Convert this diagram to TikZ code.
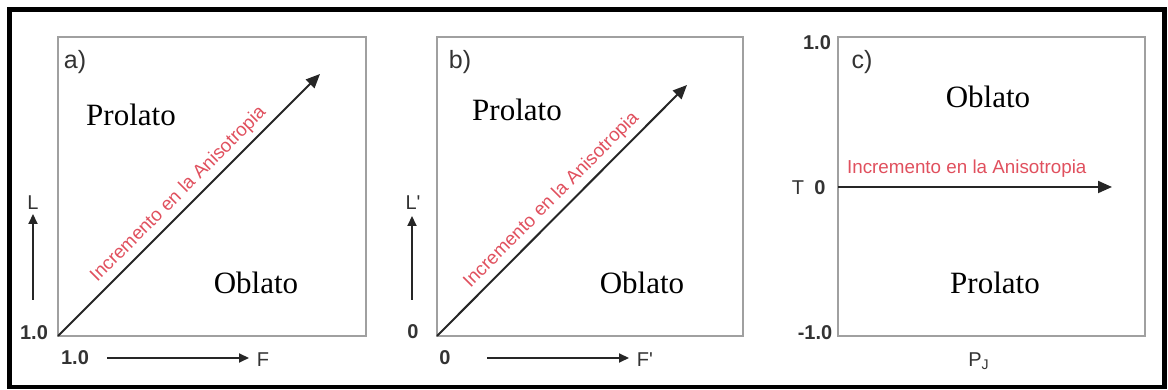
\documentclass[tikz,border=0pt]{standalone}
\usepackage{fontspec}
\setmainfont{Liberation Serif}
\setsansfont{Liberation Sans}
\usetikzlibrary{arrows.meta}
\definecolor{boxgray}{HTML}{A0A0A0}
\definecolor{txtgray}{HTML}{333333}
\definecolor{anisored}{HTML}{E0505E}
\tikzset{
  panel/.style={draw=boxgray, line width=1pt},
  shape label/.style={font=\fontsize{15.5}{16}\selectfont\rmfamily},
  tick label/.style={font=\fontsize{10}{11}\selectfont\sffamily\bfseries, text=txtgray},
  axis label/.style={font=\fontsize{10}{11}\selectfont\sffamily, text=txtgray},
  panel tag/.style={font=\fontsize{12.5}{13}\selectfont\sffamily, text=txtgray},
  aniso/.style={font=\fontsize{9.4}{10}\selectfont\sffamily, text=anisored, inner sep=2.5pt},
  trend/.style={line width=1pt, draw=black!85, -{Triangle[length=7pt,width=6pt]}},
  axis arrow/.style={line width=1pt, draw=black!85, -{Triangle[length=5pt,width=4.5pt]}}
}
\begin{document}
\begin{tikzpicture}[x=0.5pt, y=0.5pt]
  \useasboundingbox (0,0) rectangle (1168,390);
  \draw[line width=2.2pt] (9.5,3) rectangle (1164.5,380.5);

  % a)
  \draw[panel] (58,54) rectangle (366,353);
  \coordinate (a0) at (58,54);
  \coordinate (a1) at (320,316);
  \draw[trend] (a0) -- (a1) node[aniso, midway, above, sloped] {Incremento en la Anisotropia};
  \node[panel tag] (atag) at (75,328) {a)};
  \node[shape label] (aprol) at (131,275) {Prolato};
  \node[shape label] (aobl) at (256,107) {Oblato};
  \node[axis label] (al) at (33,187) {L};
  \coordinate (la0) at (33,90);
  \coordinate (la1) at (33,176);
  \draw[axis arrow] (la0) -- (la1);
  \node[tick label] (ay) at (34,57) {1.0};
  \node[tick label] (ax) at (75,32) {1.0};
  \coordinate (fa0) at (107,32);
  \coordinate (fa1) at (249,32);
  \draw[axis arrow] (fa0) -- (fa1);
  \node[axis label] (af) at (263,30) {F};

  % b)
  \draw[panel] (437,54) rectangle (743,353);
  \coordinate (b0) at (437,54);
  \coordinate (b1) at (687,305);
  \draw[trend] (b0) -- (b1) node[aniso, midway, above, sloped] {Incremento en la Anisotropia};
  \node[panel tag] (btag) at (460,328) {b)};
  \node[shape label] (bprol) at (517,280) {Prolato};
  \node[shape label] (bobl) at (642,107) {Oblato};
  \node[axis label] (bl) at (413,187) {L\textquotesingle};
  \coordinate (lb0) at (412,90);
  \coordinate (lb1) at (412,174);
  \draw[axis arrow] (lb0) -- (lb1);
  \node[tick label] (by) at (413,58) {0};
  \node[tick label] (bx) at (445,32) {0};
  \coordinate (fb0) at (487,32);
  \coordinate (fb1) at (629,32);
  \draw[axis arrow] (fb0) -- (fb1);
  \node[axis label] (bf) at (645,30) {F\textquotesingle};

  % c)
  \draw[panel] (838,54) rectangle (1145,353);
  \coordinate (c0) at (838,203);
  \coordinate (c1) at (1112,203);
  \draw[trend] (c0) -- (c1) node[aniso, pos=0.47, above=2pt] {Incremento en la Anisotropia};
  \node[panel tag] (ctag) at (862,328) {c)};
  \node[shape label] (cobl) at (988,293) {Oblato};
  \node[shape label] (cprol) at (995,107) {Prolato};
  \node[tick label] (ctop) at (817,347) {1.0};
  \node[tick label] (cbot) at (815,57) {-1.0};
  \node[axis label] (ct) at (798,202) {T};
  \node[tick label] (czero) at (820,202) {0};
  \node[axis label] (cp) at (979,29) {P\textsubscript{J}};
\end{tikzpicture}
\end{document}
